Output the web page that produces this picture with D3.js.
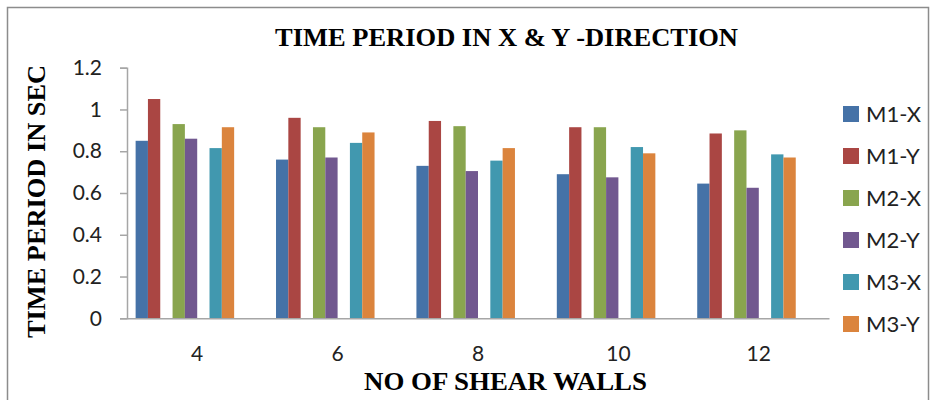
<!DOCTYPE html>
<html>
<head>
<meta charset="utf-8">
<script src="https://cdn.jsdelivr.net/npm/d3@7"></script>
<style>
  html, body { margin: 0; padding: 0; background: #fff; }
  svg { display: block; }
</style>
</head>
<body>
<svg id="chart" width="934" height="400"></svg>
<script>
// ---- data ----
const categories = ["4", "6", "8", "10", "12"];
const seriesNames = ["M1-X", "M1-Y", "M2-X", "M2-Y", "M3-X", "M3-Y"];
const m1x = [0.85, 0.76, 0.73, 0.69, 0.645];
const m1y = [1.05, 0.96, 0.945, 0.915, 0.885];
const m2x = [0.93, 0.915, 0.92, 0.915, 0.90];
const m2y = [0.86, 0.77, 0.705, 0.675, 0.625];
const m3x = [0.815, 0.84, 0.755, 0.82, 0.785];
const m3y = [0.915, 0.89, 0.815, 0.79, 0.77];
const seriesValues = [m1x, m1y, m2x, m2y, m3x, m3y];
const colors = ["#4572A7", "#AA4643", "#89A54E", "#71588F", "#4198AF", "#DB843D"];
const yTicks = [0, 0.2, 0.4, 0.6, 0.8, 1, 1.2];
const title = "TIME PERIOD IN X & Y -DIRECTION";
const xTitle = "NO OF SHEAR WALLS";
const yTitle = "TIME PERIOD IN SEC";

(function () {
// ---- layout ----
const svg = d3.select("#chart");
const plotLeft = 127, plotRight = 829, plotTop = 67.7, plotBottom = 318.3;

// frame
svg.append("rect")
  .attr("x", 7.5).attr("y", 7.5).attr("width", 921).attr("height", 420)
  .attr("fill", "none").attr("stroke", "#8c8c8c").attr("stroke-width", 1.5);

const x0 = d3.scaleBand().domain(categories).range([plotLeft, plotRight]).padding(0);
// 10 slots per category: pairs separated by empty slots
const slotOf = i => Math.floor(i / 2) * 3 + (i % 2);
const x1 = d3.scaleBand().domain(d3.range(10)).range([0, x0.bandwidth()])
  .paddingInner(0).paddingOuter(0.7);
const y = d3.scaleLinear().domain([0, 1.2]).range([plotBottom, plotTop]);

// bars
const barData = [];
categories.forEach((c, ci) => {
  seriesValues.forEach((vals, si) => {
    barData.push({ c, si, v: vals[ci] });
  });
});
svg.append("g").selectAll("rect").data(barData).join("rect")
  .attr("x", d => x0(d.c) + x1(slotOf(d.si)))
  .attr("y", d => y(d.v))
  .attr("width", x1.bandwidth())
  .attr("height", d => y(0) - y(d.v))
  .attr("fill", d => colors[d.si]);

// y axis
const yAxis = svg.append("g")
  .attr("transform", `translate(${plotLeft},0)`)
  .call(d3.axisLeft(y).tickValues(yTicks).tickSize(7).tickPadding(18)
    .tickFormat(d => d3.format("")(d)));
yAxis.select(".domain").attr("stroke", "#a6a6a6").attr("stroke-width", 1.5);
yAxis.selectAll(".tick line").attr("stroke", "#a6a6a6").attr("stroke-width", 1.5);
yAxis.selectAll(".tick text")
  .attr("font-family", "Lato, 'Open Sans', sans-serif")
  .attr("font-size", 21).attr("fill", "#222");

// x axis baseline + labels
const xAxis = svg.append("g")
  .attr("transform", `translate(0,${plotBottom})`)
  .call(d3.axisBottom(x0).tickSize(0).tickPadding(28));
xAxis.select(".domain").attr("stroke", "#a6a6a6").attr("stroke-width", 1.5);
xAxis.selectAll(".tick text")
  .attr("font-family", "Lato, 'Open Sans', sans-serif")
  .attr("font-size", 21).attr("fill", "#222");

// titles
const serif = "'Liberation Serif', 'Times New Roman', serif";
svg.append("text")
  .attr("x", 275).attr("y", 46)
  .attr("font-family", serif).attr("font-weight", "bold").attr("font-size", 26)
  .attr("textLength", 463).attr("lengthAdjust", "spacingAndGlyphs")
  .text(title);
svg.append("text")
  .attr("x", 364).attr("y", 390)
  .attr("font-family", serif).attr("font-weight", "bold").attr("font-size", 26)
  .attr("textLength", 283).attr("lengthAdjust", "spacingAndGlyphs")
  .text(xTitle);
svg.append("text")
  .attr("transform", "translate(45,338) rotate(-90)")
  .attr("x", 0).attr("y", 0)
  .attr("font-family", serif).attr("font-weight", "bold").attr("font-size", 26)
  .attr("textLength", 273).attr("lengthAdjust", "spacingAndGlyphs")
  .text(yTitle);

// legend
const legend = svg.append("g");
const lg = legend.selectAll("g").data(seriesNames).join("g")
  .attr("transform", (d, i) => `translate(843,${114 + i * 42})`);
lg.append("rect").attr("x", 0).attr("y", -8).attr("width", 16).attr("height", 16)
  .attr("fill", (d, i) => colors[i]);
lg.append("text").attr("x", 23).attr("y", 0).attr("dy", "0.36em")
  .attr("font-family", "Lato, 'Open Sans', sans-serif")
  .attr("font-size", 22).attr("fill", "#222")
  .text(d => d);
})();
</script>
</body>
</html>
